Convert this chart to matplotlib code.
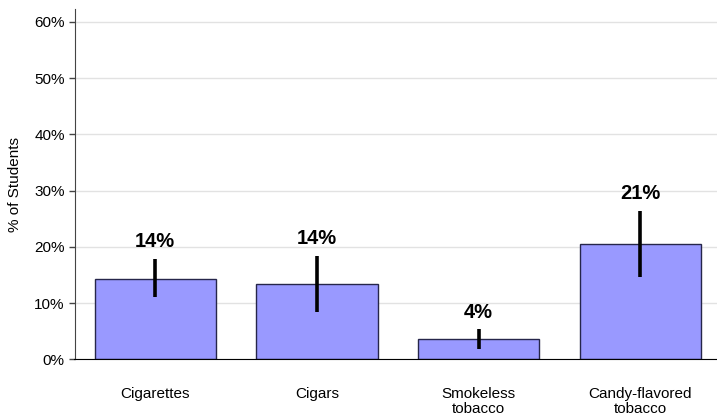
import numpy as np
import matplotlib
matplotlib.use('Agg')
import matplotlib.pyplot as plt
from matplotlib.ticker import FuncFormatter

plt.rcParams['font.family'] = ['Liberation Sans', 'DejaVu Sans']

# data
categories = ['Cigarettes', 'Cigars', 'Smokeless\ntobacco', 'Candy-flavored\ntobacco']
values = [14.3, 13.4, 3.6, 20.5]
err_low = [11.0, 8.4, 1.9, 14.6]
err_high = [17.9, 18.4, 5.3, 26.4]
labels = ['14%', '14%', '4%', '21%']
yticks = [0, 10, 20, 30, 40, 50, 60]

W, H = 717, 419
fig = plt.figure(figsize=(W / 100, H / 100), dpi=100)
# axes in pixel coords: left 74.5, right 717, top 9, bottom 359.3
ax = fig.add_axes([74.5 / W, 1 - 359.3 / H, (717 - 74.5) / W, (359.3 - 9) / H])

x = np.arange(len(categories))
ax.bar(x, values, width=0.75, color='#9999ff', edgecolor='#26264a',
       linewidth=1.0, zorder=2)

vals = np.array(values)
yerr = np.vstack([vals - np.array(err_low), np.array(err_high) - vals])
ax.errorbar(x, values, yerr=yerr, fmt='none', ecolor='black',
            elinewidth=2.6, capsize=0, zorder=3)

for xi, top, lab in zip(x, err_high, labels):
    ax.annotate(lab, (xi, top), xytext=(0, 12.5), textcoords='offset points',
                ha='center', va='center', fontsize=14.5, fontweight='bold')

ax.set_xlim(-0.5, 3.5 - 4 / 161.7)
ax.set_ylim(0, 62.3)
ax.set_yticks(yticks)
ax.yaxis.set_major_formatter(FuncFormatter(lambda v, p: '%d%%' % v))
ax.grid(axis='y', color='#e2e2e2', linewidth=1.0, zorder=0)
ax.set_axisbelow(True)

ax.set_xticks(x)
ax.set_xticklabels(categories, fontsize=11, linespacing=1.05)
ax.tick_params(axis='x', length=0, pad=20)
ax.tick_params(axis='y', length=4, width=1, color='#444444', labelsize=11, pad=3)

for s in ['top', 'right']:
    ax.spines[s].set_visible(False)
ax.spines['left'].set_color('#444444')
ax.spines['bottom'].set_color('black')

ax.set_ylabel('% of Students', fontsize=11, labelpad=9)

fig.savefig('out.png', dpi=100)
